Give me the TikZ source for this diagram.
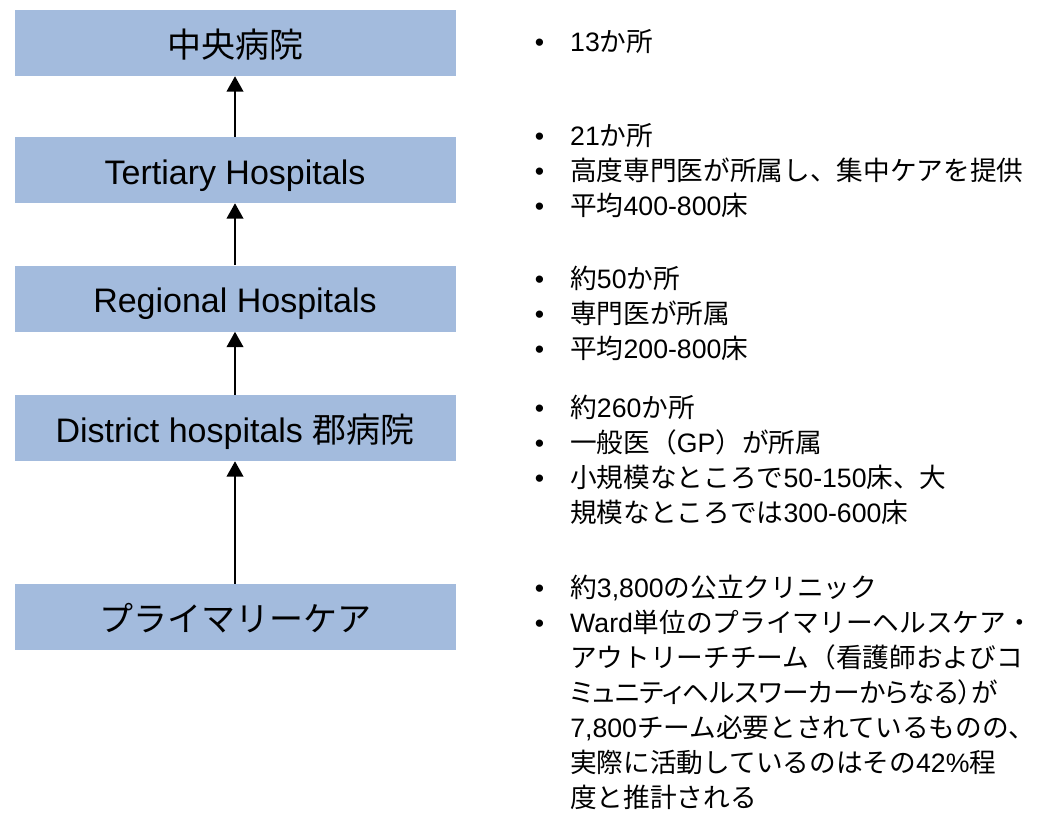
\documentclass[tikz,border=0pt]{standalone}
\usepackage{fontspec}
\setmainfont{Liberation Sans}
\newfontfamily\jp{Noto Sans CJK JP}
\newfontfamily\jpp[RawFeature=+palt]{Noto Sans CJK JP}
\usetikzlibrary{arrows.meta}

\definecolor{boxblue}{RGB}{163,187,221}

% bullet and indent for the notes on the right
\newcommand{\bul}{\makebox[27pt][l]{\hspace{0.5pt}•}}
\newcommand{\ind}{\hspace*{27pt}}

\tikzset{
  level/.style={fill=boxblue, minimum width=441*0.75pt, minimum height=66*0.75pt,
    inner sep=0pt, text height=21pt, text depth=0pt,
    font=\fontsize{25.5}{30}\selectfont},
  notes/.style={anchor=north west, align=left, inner sep=0pt,
    font=\fontsize{20}{26.25}\selectfont},
  up/.style={-{Triangle[width=12.5pt,length=11.5pt]}, line width=1.3pt}
}

\begin{document}
\begin{tikzpicture}[x=0.75pt,y=-0.75pt]
\useasboundingbox (0,0) rectangle (1038,814);

%% levels of the hospital system
\node[level] (central)  at (235,43)    {{\jp 中央病院}};
\node[level] (tertiary) at (235,170)   {Tertiary Hospitals};
\node[level] (regional) at (235,298.5) {Regional Hospitals};
\node[level] (district) at (235,428)   {District hospitals {\jp 郡病院}};
\node[level] (primary)  at (235,617)   {{\jp プライマリーケア}};

%% arrows upward
\draw[up] (primary)  -- (district);
\draw[up] (district) -- (regional);
\draw[up] (regional) -- (tertiary);
\draw[up] (tertiary) -- (central);

%% notes
\node[notes] (ncentral) at (534,29) {\bul 13{\jp か所}};

\node[notes] (ntertiary) at (534,123) {%
  \bul 21{\jp か所}\\
  \bul {\jp 高度専門医が所属し、集中ケアを提供}\\
  \bul {\jp 平均}400-800{\jp 床}};

\node[notes] (nregional) at (534,266) {%
  \bul {\jp 約}50{\jp か所}\\
  \bul {\jp 専門医が所属}\\
  \bul {\jp 平均}200-800{\jp 床}};

\node[notes] (ndistrict) at (534,395) {%
  \bul {\jp 約}260{\jp か所}\\
  \bul {\jp 一般医（}GP{\jp ）が所属}\\
  \bul {\jp 小規模なところで}50-150{\jp 床、大}\\
  \ind {\jp 規模なところでは}300-600{\jp 床}};

\node[notes] (nprimary) at (534,575) {%
  \bul {\jp 約}3,800{\jp の公立クリニック}\\
  \bul Ward{\jp 単位のプライマリーヘルスケア・}\\
  \ind {\jp アウトリーチチーム（看護師およびコ}\\
  \ind {\jpp ミュニティヘルスワーカーからなる）が}\\
  \ind 7,800{\jp チーム必要とされているものの、}\\
  \ind {\jp 実際に活動しているのはその}42\%{\jp 程}\\
  \ind {\jp 度と推計される}};
\end{tikzpicture}
\end{document}
